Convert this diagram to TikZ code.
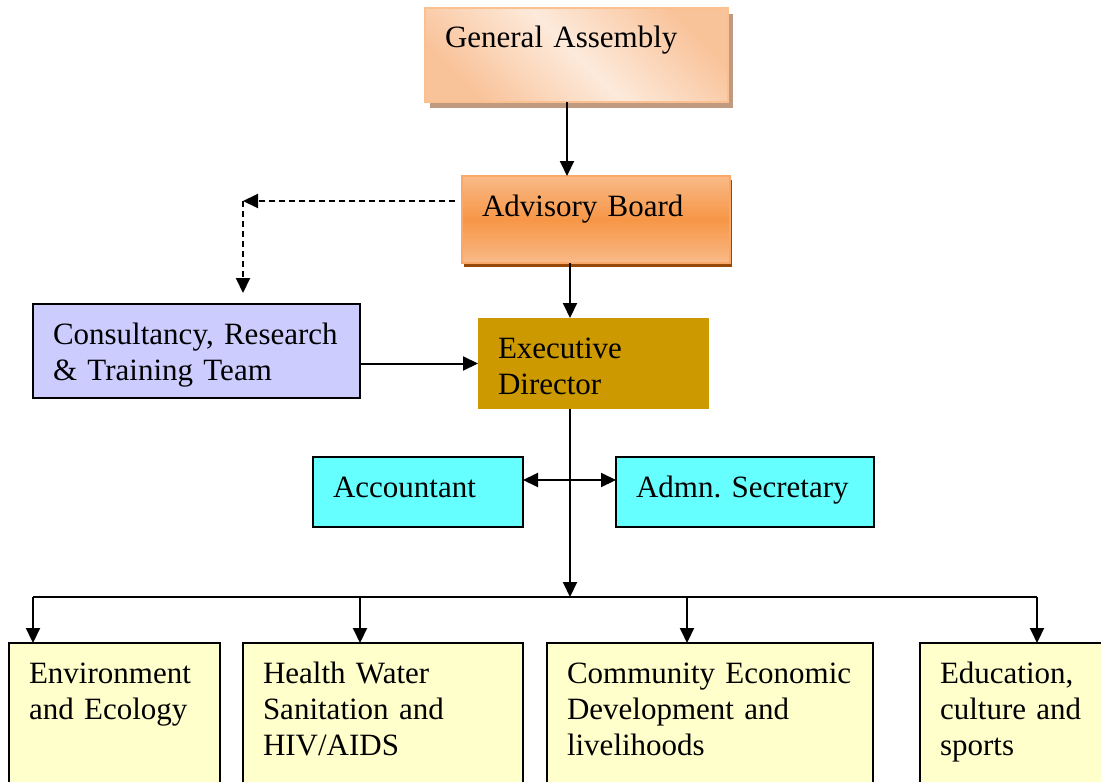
\documentclass[tikz,border=0pt]{standalone}
\usepackage{fontspec}
\setmainfont{Liberation Serif}
\usetikzlibrary{arrows.meta,calc,shadows}
\definecolor{gaedge}{HTML}{F9C39A}
\definecolor{gamid}{HTML}{FDEADB}
\definecolor{galine}{HTML}{FAC090}
\definecolor{gashadow}{HTML}{BF9A80}
\definecolor{abedge}{HTML}{F9BA88}
\definecolor{abmid}{HTML}{F79646}
\definecolor{abline}{HTML}{F9A86A}
\definecolor{abshadow}{HTML}{974806}
\definecolor{edfill}{HTML}{CC9900}
\definecolor{teamfill}{HTML}{CCCCFF}
\definecolor{stafffill}{HTML}{66FFFF}
\definecolor{progfill}{HTML}{FFFFCC}
\tikzset{
    >={Triangle[length=7.5pt,width=7pt]},
    orgbox/.style 2 args={anchor=north west, inner xsep=10pt, inner ysep=0pt,
        outer sep=0pt, align=left, font=\fontsize{15.5}{18}\selectfont\frenchspacing,
        text width=#1, text height=20pt, text depth=#2},
    assembly/.style={draw=galine, line width=1pt, top color=gaedge,
        bottom color=gaedge, middle color=gamid, shading angle=-45,
        general shadow={fill=gashadow, shadow xshift=2.5pt, shadow yshift=-3pt}},
    board/.style={draw=abline, line width=1pt, top color=abedge,
        bottom color=abedge, middle color=abmid,
        general shadow={fill=abshadow, shadow xshift=1pt, shadow yshift=-2pt}},
    director/.style={fill=edfill},
    team/.style={draw=black, line width=0.75pt, fill=teamfill},
    staff/.style={draw=black, line width=0.75pt, fill=stafffill},
    prog/.style={draw=black, line width=0.75pt, fill=progfill},
}

\begin{document}
\begin{tikzpicture}[x=0.5pt, y=-0.5pt, line width=1pt]
    \useasboundingbox (0,0) rectangle (1101,781);

    \node[orgbox={131.5pt}{27pt}, assembly] (GA) at (425,8) {General Assembly};
    \node[orgbox={114pt}{23.5pt}, board] (AB) at (462,176) {Advisory Board};
    \node[orgbox={95.5pt}{25.5pt}, director] (ED) at (478,318) {Executive\\ Director};
    \node[orgbox={143.5pt}{27pt}, team] (CRT) at (33,304) {Consultancy, Research\\ \& Training Team};
    \node[orgbox={85pt}{15pt}, staff] (Acc) at (313,457) {Accountant};
    \node[orgbox={109pt}{15pt}, staff] (Sec) at (616,457) {Admn. Secretary};
    \node[orgbox={85.5pt}{60pt}, prog] (Env) at (9,643) {Environment\\ and Ecology};
    \node[orgbox={120pt}{60pt}, prog] (Hlth) at (243,643) {Health Water\\ Sanitation and\\ HIV/AIDS};
    \node[orgbox={143pt}{60pt}, prog] (Comm) at (547,643) {Community Economic\\ Development and\\ livelihoods};
    \node[orgbox={90pt}{60pt}, prog] (Edu) at (920,643) {Education,\\ culture and\\ sports};

    \draw[->] ([xshift=-4.75pt]GA.south) -- ([xshift=-4.75pt]GA.south |- AB.north);
    \draw[->] ([xshift=-13pt]AB.south) -- ([xshift=-13pt]AB.south |- ED.north);
    \draw[->] (CRT.east |- ED.west) -- (ED.west);

    \coordinate (split) at (243,201);
    \draw[->, dash pattern=on 3pt off 2pt, shorten <=3.5pt] (split -| AB.west) -- (split);
    \draw[->, dash pattern=on 3pt off 2pt, shorten >=5.5pt] (split) -- (split |- CRT.north);

    \draw[<->] ([yshift=6pt]Acc.east) -- ([yshift=6pt]Acc.east -| Sec.west);

    \coordinate (bus) at (570,597);
    \draw[->] (bus |- ED.south) -- (bus);
    \foreach \x/\b [count=\i] in {33/Env, 360/Hlth, 687/Comm, 1037/Edu} {
        \coordinate (drop\i) at (\x,597);
        \draw[->] (drop\i) -- (drop\i |- \b.north);
    }
    \draw[line width=0.75pt] (drop1) -- (drop4);
\end{tikzpicture}
\end{document}
